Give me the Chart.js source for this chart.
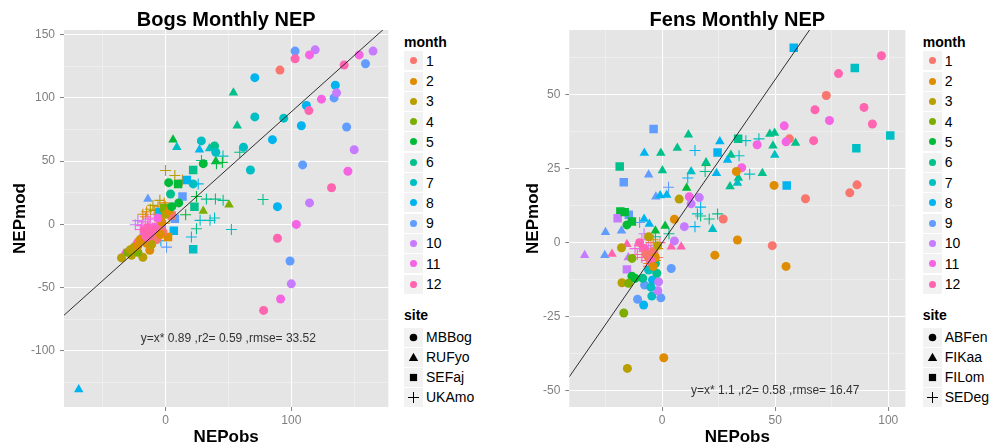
<!DOCTYPE html>
<html lang="en">
<head>
<meta charset="UTF-8">
<title>Monthly NEP</title>
<script src="https://cdn.jsdelivr.net/npm/chart.js"></script>
<style>
  body { margin: 0; background: #fff; font-family: "Liberation Sans", Arial, sans-serif; }
  #wrap { position: relative; width: 992px; height: 446px; overflow: hidden; }
  canvas { position: absolute; top: 0; }
  .lg-title { position: absolute; font-weight: bold; font-size: 14px; line-height: 16px; white-space: nowrap; color: #000; }
  .lg-key { position: absolute; width: 19px; height: 19px; background: #f2f2f2; }
  .lg-key svg { display: block; }
  .lg-label { position: absolute; font-size: 14px; line-height: 16px; white-space: nowrap; color: #000; }
</style>
</head>
<body>
<div id="wrap">
  <canvas id="bogs" width="395" height="446" style="left:0"></canvas>
  <canvas id="fens" width="412" height="446" style="left:500px"></canvas>
</div>

<script>
// month colours (ggplot hue scale, 12 levels)
var monthColors = ['#F8766D', '#DE8C00', '#B79F00', '#7CAE00', '#00BA38', '#00C08B',
                   '#00BFC4', '#00B4F0', '#619CFF', '#C77CFF', '#F564E3', '#FF64B0'];
var monthLabels = ['1', '2', '3', '4', '5', '6', '7', '8', '9', '10', '11', '12'];

var bogSites = ['MBBog', 'RUFyo', 'SEFaj', 'UKAmo'];
var fenSites = ['ABFen', 'FIKaa', 'FILom', 'SEDeg'];

// [NEPobs, NEPmod, month]
var mbBog = [
  [103,137,9],[103,131,12],[119,138,10],[114.5,134,11],[91,122,1],[71,116,8],[142,126,12],
  [154,134,11],[165,137,10],[159,127,9],[135,110,8],[134,100,9],[136,104,10],[124,99,11],
  [112,94,8],[114,90,12],[71,85,7],[94,84,7],[108,78,8],[144,77,9],[85,67,8],[150,59,10],
  [109,47,9],[145,42,11],[67.5,43,7],[132,29,12],[114.5,17,10],[89,14,8],[104,0,11],
  [89,-11,12],[99,-29,9],[100,-47,10],[91.5,-59,11],[78,-68,12],
  [28.5,66,7],[39,62,6],[40,57,7],[62,61,7],[30,48,5],[2.5,33,5],[22,32,7],[10.5,17,5],[4,24,6],
  [-35,-26.5,3],[-27,-24.5,3],[-18,-26,3],[-22,-22,4],[-12.5,-20.5,2],[-15,-15,2],[-10,-10,1],
  [-8,-6,12],[-5,-3,1],[-12,-8,12],[-3,2,2],[-6,5,11],[0,8,3],[3,11,2],[-20,-12,2],[-25,-18,3],
  [-17,-5,12],[-30,-22,4],[-14,-11,12],[-9,-2,11],[-2,-6,1],[5,14,5],[-22,-17,2],
  [-16,-9,12],[-7,-12,1],[-4,-8,2],[-11,-16,3],[-28,-20,3],[-9,-4,12]
];
var ruFyo = [
  [54,104,6],[57,78,6],[6,67,5],[9,61,7],[27,59,8],[35,60,7],[40,50,5],[-14,20,9],[30,10.5,4],
  [50.5,15.5,4],[-69,-130.5,8],[-33,-23,11],[-24,-15,12],[-19,-9,10],[-10,-12,1],[-14,-2,12]
];
var seFaj = [
  [10,32,5],[17,35,8],[22,43,6],[13.5,22,9],[23,14,6],[6.6,-5,8],[22,-19.7,7],[7.4,4.5,9],
  [-4.5,9.7,8],[-12,-5,12],[-3,-2,10],[2,-10,2],[-1,13,4],[5,7,1]
];
var ukAmo = [
  [0,42.6,3],[7.4,38.7,3],[13.5,35,2],[26,32,8],[45.7,54,7],[40.5,48,5],[59,57,6],[28.6,50.5,6],
  [45.2,49,5],[24.6,22,5],[32.5,20,6],[39.7,20,6],[45.8,19,6],[16,7.6,5],[27.5,3.2,7],[35.4,3.2,7],
  [39,5,7],[24.6,-3.4,6],[20.6,-10,8],[0.8,-18,9],[52.4,-4,7],[77.5,19.7,6],[-4.5,19,3],[-1,17,2],
  [0,14,2],[-3.7,-13,8],[-24,-0.3,10],[-18,2,11],[-12,5,11],[-8,8,12],[-5,3,1],[-15,10,2],
  [-10,15,3],[-20,-4,11],[-6,-2,12],[-13,0,12],[-16,6,1],[-9,11,3],[-2,6,12],[-7,-8,2],
  [-22,3,10],[-19,-1,11],[-16,-3,12],[-11,-6,12],[-14,4,11],[-7,0,1],[-4,-4,12],[-1,1,2],
  [-18,8,2],[-12,12,3],[-6,14,2],[3,6,2]
];

var abFen = [
  [97,63,12],[78,57,12],[72.6,49.6,1],[89.3,45.6,12],[67.6,44.8,12],[74,41.2,11],[93,40,12],
  [54,39.4,11],[56.3,35,1],[54.8,34,11],[67,34.4,12],[42,33,11],[35.2,25.3,11],[32.8,24,2],
  [49.5,19.3,2],[63.4,14.8,1],[86.2,19.5,1],[83,16.8,1],[27,8,1],[33.3,0.9,2],[48.7,-1,1],
  [23.3,-4.2,2],[54.8,-8,2],[0.7,-38.8,2],[-15.4,-42.4,3],[-17,-23.7,4],
  [7.5,14.7,3],[12,15.5,11],[16.4,15.2,10],[12.8,13.1,10],[5.4,7.9,2],[9.8,5.4,10],[5.4,0.6,10],
  [4,-8.7,9],[-18,-1.7,3],[-13.4,-5.3,4],[-15.6,6,5],[-13.4,-11.3,5],[-17.8,-13.5,3],
  [-14.9,-13.7,4],[-6,-9.2,7],[-4.3,-12.6,8],[-7.8,-14.3,9],[-4.6,-18,7],[-8.2,-21,8],
  [-10.9,-19.1,9],[-0.6,-18.6,9],[-1.9,-16.2,10],[-1.6,-13.2,10],[-2.4,-10.3,6],[-5,-15,7],
  [-8.6,-12,6],[-12,-12,5],[-3,-7,6],[-6,-5,2],[-4,-3,1],[-8,-2,12],[-2,-1,3],[-6,2,3],
  [-10,0,12],[-3,-5,2],[-5,-6,12],[-7,-4,1],[-4,-8,2]
];
var fiKaa = [
  [59,33.6,6],[47.6,36.6,6],[49.7,37,6],[49,32.7,6],[49.8,29.6,7],[44.3,23.4,6],[25.5,34.1,8],
  [30.4,29.6,6],[28.9,27.9,8],[19.4,26.8,5],[24,23.4,8],[33.7,21.8,6],[33.3,20.1,7],[30,18.9,6],
  [11.6,36.4,6],[6.7,31.9,6],[-7.9,30.2,8],[-0.6,30.2,6],[19.4,27,6],[-6,22.9,9],[0.1,24.3,6],
  [12.8,24,7],[10.8,18.4,5],[-2.8,15.5,9],[-0.9,15.9,8],[2,16.1,8],[22.3,4.5,7],[-25.1,3.5,9],
  [-18,4,9],[-5.7,6.3,8],[1.3,5.6,5],[-34.3,-4.2,10],[-25.4,-4.2,9],[-22.2,-3.8,12],
  [-15.6,-0.5,12],[-15,-5,10],[4,-1.4,12],[8.4,-1.4,12],[-8,8,8],[-3,4,5]
];
var fiLom = [
  [58.2,65.7,8],[85.2,58.9,7],[100.9,36.1,7],[85.9,31.8,7],[33.6,35,6],[24.5,30.4,8],[55.1,19.3,8],
  [-3.8,38.3,9],[-18.8,25.7,6],[-17,20.4,9],[-18.5,10.5,5],[-19.7,8.2,10],[-14.8,9.4,9],
  [-16.6,10.3,5],[-13.4,7.1,5],[-15.6,-9,10]
];
var seDeg = [
  [37,34.4,7],[42.8,35,7],[34,29.3,7],[19,24,6],[38.7,23.1,7],[17,9,6],[14.5,31.1,8],[11.3,21.8,8],
  [2.8,18.7,9],[17,12,8],[14.5,5.4,8],[15.6,9.7,7],[20.8,8,6],[24.5,9.7,6],[-10,6.8,9],[-12,-2,11],
  [-10,-1,12],[-8,-3,12],[-6,-1,10],[-4,-4,2],[-2,-2,2],[-9,1,11],[-7,-6,12],[-5,0,1],[-11,-4,12],
  [-3,2,6],[3,3,6],[-8,3,10],[-6,-7,2],[-2,-5,1],
  [-9,-5,12],[-7,-2,12],[-5,-3,11],[-3,-6,2],[-1,0,12],[-4,1,2],[-6,-8,1]
];

var FONT = '"Liberation Sans", Arial, sans-serif';
var shapeStyles = ['circle', 'triangle', 'rect', 'cross'];
var shapeSizes = [4.5, 5.5, 6, 5.5];

// grey panel, title and fit label
var panelDecor = {
  id: 'panelDecor',
  beforeDraw: function (chart) {
    var a = chart.chartArea, ctx = chart.ctx;
    ctx.save();
    ctx.fillStyle = '#e5e5e5';
    ctx.fillRect(a.left, a.top, a.right - a.left, a.bottom - a.top);
    ctx.restore();
  },
  afterDraw: function (chart, args, opts) {
    var a = chart.chartArea, ctx = chart.ctx;
    ctx.save();
    ctx.fillStyle = '#000';
    ctx.textAlign = 'center';
    ctx.textBaseline = 'middle';
    ctx.font = 'bold 20px ' + FONT;
    ctx.fillText(opts.title, (a.left + a.right) / 2, 20);
    ctx.fillStyle = '#333';
    ctx.font = '12px ' + FONT;
    ctx.fillText(opts.note, chart.scales.x.getPixelForValue(opts.noteAt[0]),
                 chart.scales.y.getPixelForValue(opts.noteAt[1]));
    ctx.restore();
  }
};

function gridFor(major) {
  return {
    color: function (c) { return c.tick && major(c.tick.value) ? '#ffffff' : '#f2f2f2'; },
    lineWidth: function (c) { return c.tick && major(c.tick.value) ? 1.1 : 0.7; },
    tickColor: function (c) { return c.tick && major(c.tick.value) ? '#7f7f7f' : 'rgba(0,0,0,0)'; },
    tickLength: 4,
    tickWidth: 1
  };
}

function makePanel(id, cfg) {
  var xMajor = function (v) { return v % cfg.xMajor === 0; };
  var yMajor = function (v) { return v % cfg.yMajor === 0; };
  var datasets = [{
    data: [{ x: cfg.xRange[0], y: cfg.slope * cfg.xRange[0] },
           { x: cfg.xRange[1], y: cfg.slope * cfg.xRange[1] }],
    showLine: true, borderColor: '#1a1a1a', borderWidth: 0.9, pointRadius: 0
  }];
  cfg.sites.forEach(function (pts, s) {
    var cols = pts.map(function (p) { return monthColors[p[2] - 1]; });
    datasets.push({
      data: pts.map(function (p) { return { x: p[0], y: p[1] }; }),
      pointStyle: shapeStyles[s],
      pointRadius: shapeSizes[s],
      pointBackgroundColor: cols,
      pointBorderColor: cols,
      pointBorderWidth: s === 3 ? 1.1 : 0
    });
  });

  return new Chart(document.getElementById(id), {
    type: 'scatter',
    data: { datasets: datasets },
    plugins: [panelDecor],
    options: {
      responsive: false,
      animation: false,
      devicePixelRatio: 1,
      layout: { padding: { top: 30, right: cfg.padRight, left: 0, bottom: 0 } },
      plugins: {
        legend: { display: false },
        tooltip: { enabled: false },
        panelDecor: { title: cfg.title, note: cfg.note, noteAt: cfg.noteAt }
      },
      scales: {
        x: {
          type: 'linear', min: cfg.xRange[0], max: cfg.xRange[1],
          afterFit: function (s) { s.height = 39; },
          border: { display: false },
          grid: gridFor(xMajor),
          ticks: {
            stepSize: cfg.xStep, includeBounds: false, autoSkip: false, maxRotation: 0,
            padding: 2, color: '#7f7f7f', font: { family: FONT, size: 12 },
            callback: function (v) { return xMajor(v) ? String(v) : ''; }
          },
          title: {
            display: true, text: 'NEPobs', color: '#000',
            font: { family: FONT, size: 17, weight: 'bold', lineHeight: 1 },
            padding: { top: 0, bottom: 0.5 }
          }
        },
        y: {
          type: 'linear', min: cfg.yRange[0], max: cfg.yRange[1],
          afterFit: function (s) { s.width = cfg.yWidth; },
          border: { display: false },
          grid: gridFor(yMajor),
          ticks: {
            stepSize: cfg.yStep, includeBounds: false, autoSkip: false,
            padding: 5, color: '#7f7f7f', font: { family: FONT, size: 12 },
            callback: function (v) { return yMajor(v) ? String(v) : ''; }
          },
          title: {
            display: true, text: 'NEPmod', color: '#000',
            font: { family: FONT, size: 17, weight: 'bold', lineHeight: 1 },
            padding: { top: cfg.yTitlePad, bottom: 0 }
          }
        }
      }
    }
  });
}

makePanel('bogs', {
  title: 'Bogs Monthly NEP',
  sites: [mbBog, ruFyo, seFaj, ukAmo],
  xRange: [-80.7, 177.2], yRange: [-144.4, 153.7],
  xStep: 50, xMajor: 100, yStep: 25, yMajor: 50,
  yWidth: 64, yTitlePad: 11.5, padRight: 6,
  slope: 0.89,
  note: 'y=x* 0.89 ,r2= 0.59 ,rmse= 33.52', noteAt: [50, -90]
});

makePanel('fens', {
  title: 'Fens Monthly NEP',
  sites: [abFen, fiKaa, fiLom, seDeg],
  xRange: [-41.1, 107.6], yRange: [-55.4, 71.7],
  xStep: 25, xMajor: 50, yStep: 12.5, yMajor: 25,
  yWidth: 69.3, yTitlePad: 24.5, padRight: 4.7,
  slope: 1.1,
  note: 'y=x* 1.1 ,r2= 0.58 ,rmse= 16.47', noteAt: [50, -50]
});

// legends: month colours and site shapes
function keySvg(inner) {
  return '<svg width="19" height="19" viewBox="0 0 19 19">' + inner + '</svg>';
}
var siteKeys = [
  '<circle cx="9.5" cy="9.5" r="3.8" fill="#000"/>',
  '<polygon points="9.5,4.8 14.2,12.9 4.8,12.9" fill="#000"/>',
  '<rect x="5.9" y="5.9" width="7.2" height="7.2" fill="#000"/>',
  '<path d="M4 9.5H15M9.5 4V15" stroke="#000" stroke-width="1"/>'
];

function addEl(cls, x, y, html) {
  var d = document.createElement('div');
  d.className = cls;
  d.style.left = x + 'px';
  d.style.top = y + 'px';
  d.innerHTML = html;
  document.getElementById('wrap').appendChild(d);
}

function buildLegend(left, sites) {
  addEl('lg-title', left, 33.7, 'month');
  monthLabels.forEach(function (m, i) {
    var cy = 60.7 + i * 20.3;
    addEl('lg-key', left, cy - 9.5,
      keySvg('<circle cx="9.5" cy="9.5" r="3.5" fill="' + monthColors[i] + '"/>'));
    addEl('lg-label', left + 22, cy - 8, m);
  });
  addEl('lg-title', left, 307, 'site');
  sites.forEach(function (s, i) {
    var cy = 337.3 + i * 20;
    addEl('lg-key', left, cy - 9.5, keySvg(siteKeys[i]));
    addEl('lg-label', left + 22, cy - 8, s);
  });
}

buildLegend(404, bogSites);
buildLegend(922.7, fenSites);
</script>
</body>
</html>
